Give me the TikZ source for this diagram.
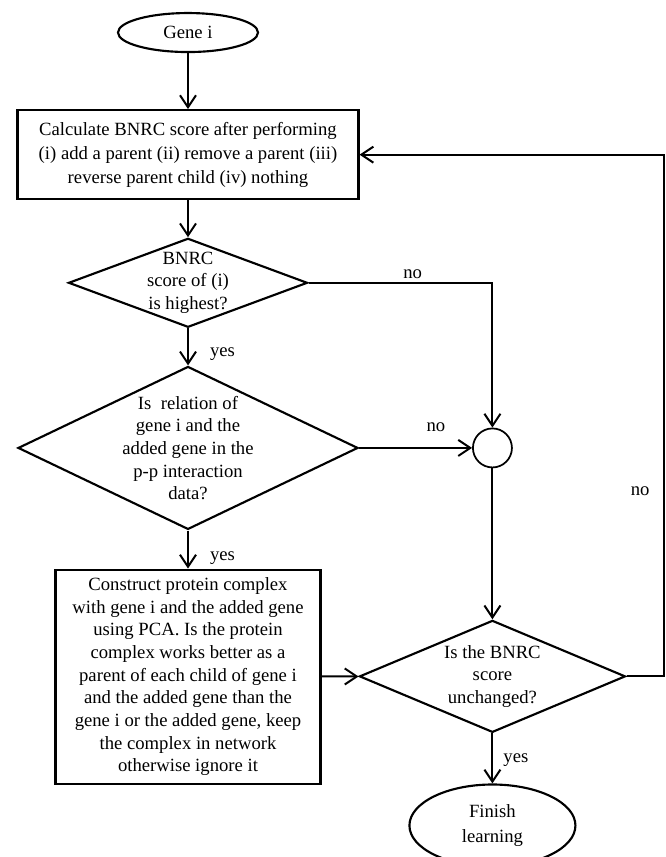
\documentclass[tikz,border=0pt]{standalone}
\usepackage{fontspec}
\setmainfont{Liberation Serif}
\usepackage{tikz}
\usetikzlibrary{shapes.geometric, arrows.meta, positioning}
\tikzset{
    box/.style={rectangle, draw, line width=1.6pt, inner sep=2pt, align=center, font=\fontsize{14}{17}\selectfont},
    decision/.style={diamond, draw, line width=1.6pt, inner sep=0pt},
    terminal/.style={ellipse, draw, line width=1.6pt, inner sep=0pt, align=center, font=\fontsize{14}{17}\selectfont},
    junction/.style={circle, draw, line width=1.3pt, minimum size=29.25pt, inner sep=0pt},
    txt/.style={align=center, font=\fontsize{14}{17}\selectfont},
    answer/.style={inner sep=0pt, font=\fontsize{14}{17}\selectfont},
    arrow/.style={-{Straight Barb[length=9pt, width=12pt]}, line width=1.5pt},
    line/.style={line width=1.5pt}
}

\begin{document}
\begin{tikzpicture}
    \useasboundingbox (0,0) rectangle (499.5pt,-642.75pt);

    % Start
    \node[terminal, minimum width=105pt, minimum height=29.25pt] (gene_i) at (141pt,-24.4pt) {Gene i};

    % Score of the four moves
    \node[box, minimum width=255.75pt, minimum height=66.75pt, below=42pt of gene_i, font=\fontsize{14}{18}\selectfont] (calc_score) {Calculate BNRC score after performing\\(i) add a parent (ii) remove a parent (iii)\\reverse parent child (iv) nothing};

    % Is adding a parent best?
    \node[decision, minimum width=179.25pt, minimum height=66.75pt, below=27.75pt of calc_score, label={[txt]center:BNRC\\score of (i)\\is highest?}] (best_score) {};

    % p-p interaction check
    \node[decision, minimum width=255pt, minimum height=122.25pt, below=27.75pt of best_score, label={[txt]center:Is\ \ relation of\\gene i and the\\added gene in the\\p-p interaction\\data?}] (ppi_check) {};

    % Protein complex box
    \node[box, minimum width=198.75pt, minimum height=160.5pt, below=28.5pt of ppi_check] (build_complex) {Construct protein complex\\with gene i and the added gene\\using PCA. Is the protein\\complex works better as a\\parent of each child of gene i\\and the added gene than the\\gene i or the added gene, keep\\the complex in network\\otherwise ignore it};

    % Merge point
    \node[junction, right=84.75pt of ppi_check] (merge) {};

    % Stop check
    \node[decision, minimum width=199.5pt, minimum height=84pt, below=113.25pt of merge, label={[txt]center:Is the BNRC\\score\\unchanged?}] (unchanged) {};

    % End
    \node[terminal, minimum width=124.5pt, minimum height=61.5pt, below=37.5pt of unchanged, font=\fontsize{14}{18.5}\selectfont] (finish) {Finish\\learning};

    \coordinate[right=27.75pt of unchanged] (loop_corner);

    % Lines
    \draw[arrow] (gene_i) -- (calc_score);
    \draw[arrow] (calc_score) -- (best_score);
    \draw[arrow] (best_score) -- node[answer, pos=0.69, right=15.75pt] {yes} (ppi_check);
    \draw[arrow] (best_score.east) -| node[answer, pos=0.283, above=2.25pt] {no} (merge.north);
    \draw[arrow] (ppi_check) -- node[answer, pos=0.68, above=11.8pt] {no} (merge);
    \draw[arrow] (ppi_check) -- node[answer, pos=0.72, right=15.75pt] {yes} (build_complex);
    \draw[arrow] (build_complex) -- (unchanged);
    \draw[arrow] (merge) -- (unchanged);
    \draw[arrow] (unchanged) -- node[answer, pos=0.53, right=7.5pt] {yes} (finish);
    \draw[arrow] (unchanged.east) -- (loop_corner) |- node[answer, pos=0.177, left=9.75pt] {no} (calc_score.east);
\end{tikzpicture}
\end{document}
